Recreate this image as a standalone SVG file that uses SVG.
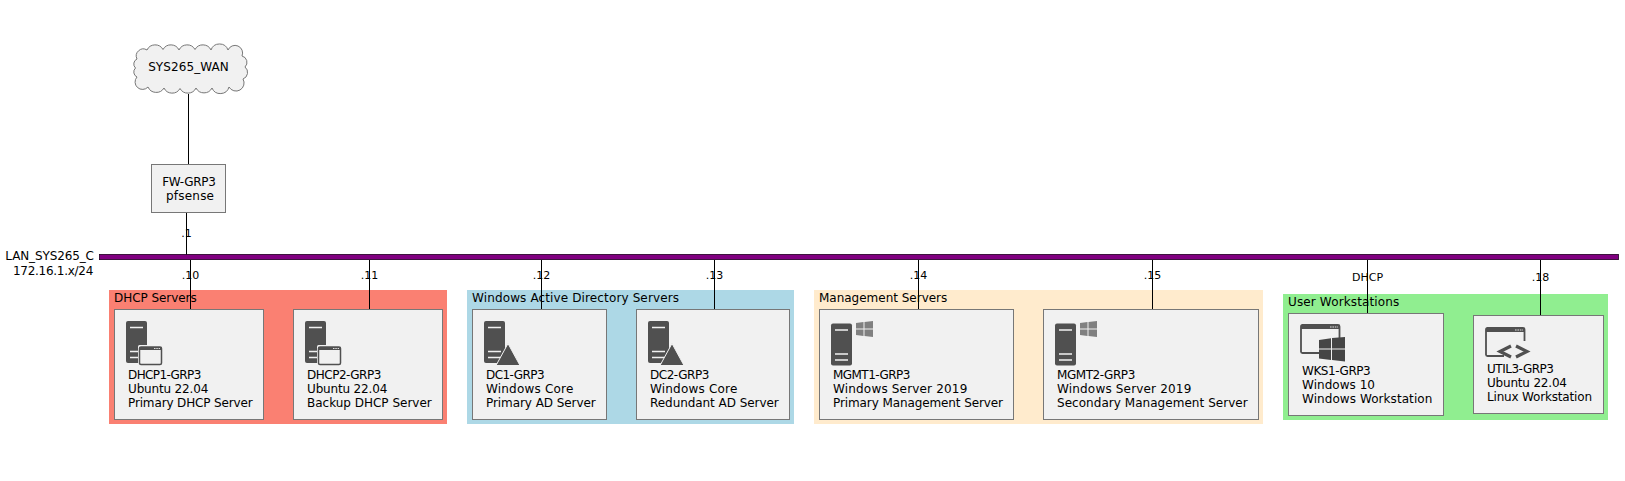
<svg xmlns="http://www.w3.org/2000/svg" width="1625" height="481" viewBox="0 0 1625 481">
<style>
text{font-family:"DejaVu Sans",sans-serif;font-size:12px;fill:#000}
.s{font-size:11px}
.m{text-anchor:middle}
.b{fill:#f1f1f1;stroke:#777;stroke-width:1}
.c line{stroke:#000;stroke-width:1}
.i{fill:#505050}
.l{fill:none;stroke:#f1f1f1;stroke-width:1.3}
</style>
<defs>
<g id="srv"><rect class="i" x="0" y="0" width="21" height="42" rx="2"/><path class="l" d="M4 6.500H17M4 30.500H17M4 36.500H17"/></g>
<g id="win"><rect x="0" y="0" width="25" height="21" rx="1.500" fill="#f1f1f1"/><rect x="1.500" y="2" width="22" height="17.500" rx="1.500" fill="none" stroke="#505050" stroke-width="1.500"/><rect class="i" x="1.500" y="2" width="22" height="3"/><path d="M16 3.500H22" stroke="#ddd" stroke-width="1" stroke-dasharray="1.500 .8"/></g>
<g id="tri"><path d="M0 22L12 0L24 22Z" class="i" stroke="#f1f1f1" stroke-width="1"/></g>
<g id="wlogo"><path d="M0 2L7.500 1V7.500H0ZM8.500 1L17 0V7.500H8.500ZM0 8.500H7.500V15L0 14ZM8.500 8.500H17V16L8.500 15Z"/></g>
<g id="bigwin"><path d="M1 28V2.500Q1 1 2.500 1H38Q39.500 1 39.500 2.500V14M1 27.500Q1 29 2.500 29H19" fill="none" stroke="#505050" stroke-width="1.800"/><rect class="i" x="1" y="1" width="38.500" height="4"/><path d="M30 3H38" stroke="#ddd" stroke-width="1.200" stroke-dasharray="1.600 .8"/></g>
<g id="logo"><path d="M0 3L12 1.200V11.500H0ZM13 1L26 0V11.500H13ZM0 12.500H12V23L0 21.500ZM13 12.500H26V24.500L13 23Z" fill="#454545"/></g>
<g id="chev"><path d="M14 1.500L3 7L14 12.500M19 1.500L30 7L19 12.500" fill="none" stroke="#505050" stroke-width="3.200"/></g>
</defs>
<rect id="g1" x="109" y="290" width="338" height="134" fill="#fa8072"/>
<rect id="g2" x="467" y="290" width="327" height="134" fill="#add8e6"/>
<rect id="g3" x="814" y="290" width="449" height="134" fill="#ffebcd"/>
<rect id="g4" x="1283" y="294" width="325" height="126" fill="#90ee90"/>
<text x="114" y="302" textLength="82.700">DHCP Servers</text>
<text x="472" y="302" textLength="207">Windows Active Directory Servers</text>
<text x="819" y="302" textLength="128.300">Management Servers</text>
<text x="1288" y="306" textLength="111.300">User Workstations</text>
<g id="connectors" class="c">
<line x1="188.500" y1="94" x2="188.500" y2="164"/>
<line x1="186.500" y1="212" x2="186.500" y2="255"/>
<line x1="190.500" y1="260" x2="190.500" y2="310"/>
<line x1="369.500" y1="260" x2="369.500" y2="310"/>
<line x1="541.500" y1="260" x2="541.500" y2="310"/>
<line x1="714.500" y1="260" x2="714.500" y2="310"/>
<line x1="918.500" y1="260" x2="918.500" y2="310"/>
<line x1="1152.500" y1="260" x2="1152.500" y2="310"/>
<line x1="1367.500" y1="260" x2="1367.500" y2="314"/>
<line x1="1540.500" y1="260" x2="1540.500" y2="316"/>
</g>
<g id="SYS265_WAN"><path class="b" d="M137 59A7 7 0 0 1 147 50A9 9 0 0 1 163 49.500A9 9 0 0 1 179 50A9 9 0 0 1 195 49.500A9 9 0 0 1 211 50A9 9 0 0 1 228 50A7 7 0 0 1 242 56A6.500 6.500 0 0 1 245 67A7 7 0 0 1 243 79A8 8 0 0 1 229 87A9 9 0 0 1 212 88A9 9 0 0 1 196 88A9 9 0 0 1 180 88.500A9 9 0 0 1 164 88A9 9 0 0 1 148 87A7 7 0 0 1 137 77A5.500 5.500 0 0 1 135.500 68A5.500 5.500 0 0 1 137 59Z"/><text class="m" x="188.500" y="71" textLength="80.700">SYS265_WAN</text></g>
<g id="FW-GRP3"><rect class="b" x="151.500" y="164.500" width="74" height="48"/><text class="m" x="189" y="186" textLength="53.700">FW-GRP3</text><text class="m" x="190" y="200" textLength="48">pfsense</text></g>
<g id="LAN_SYS265_C"><rect x="99.500" y="254.400" width="1519" height="5.200" fill="#800080" stroke="#200020" stroke-width=".8"/><text x="5.300" y="260" textLength="88.700">LAN_SYS265_C</text><text x="13" y="275" textLength="80.300">172.16.1.x/24</text></g>
<g id="labels">
<text class="s m" x="186.500" y="237">.1</text>
<text class="s m" x="190.500" y="279">.10</text>
<text class="s m" x="369.500" y="279">.11</text>
<text class="s m" x="541.500" y="279">.12</text>
<text class="s m" x="714.500" y="279">.13</text>
<text class="s m" x="918.500" y="279">.14</text>
<text class="s m" x="1152.500" y="279">.15</text>
<text class="s m" x="1367.500" y="281">DHCP</text>
<text class="s m" x="1540.500" y="281">.18</text>
</g>
<g id="DHCP1-GRP3"><rect class="b" x="114.500" y="309.500" width="149" height="110"/><use href="#srv" x="126" y="321"/><use href="#win" x="138" y="345"/><text x="128" y="379" textLength="73.300">DHCP1-GRP3</text><text x="128" y="393" textLength="80.300">Ubuntu 22.04</text><text x="128" y="407" textLength="124.700">Primary DHCP Server</text></g>
<g id="DHCP2-GRP3"><rect class="b" x="293.500" y="309.500" width="149" height="110"/><use href="#srv" x="305" y="321"/><use href="#win" x="317" y="345"/><text x="307" y="379" textLength="74.300">DHCP2-GRP3</text><text x="307" y="393" textLength="80.300">Ubuntu 22.04</text><text x="307" y="407" textLength="124.700">Backup DHCP Server</text></g>
<g id="DC1-GRP3"><rect class="b" x="472.500" y="309.500" width="134" height="110"/><use href="#srv" x="484" y="321"/><use href="#tri" x="496" y="343.500"/><text x="486" y="379" textLength="58.700">DC1-GRP3</text><text x="486" y="393" textLength="87.300">Windows Core</text><text x="486" y="407" textLength="109.700">Primary AD Server</text></g>
<g id="DC2-GRP3"><rect class="b" x="636.500" y="309.500" width="153" height="110"/><use href="#srv" x="648" y="321"/><use href="#tri" x="660" y="343.500"/><text x="650" y="379" textLength="59.300">DC2-GRP3</text><text x="650" y="393" textLength="87.300">Windows Core</text><text x="650" y="407" textLength="128.700">Redundant AD Server</text></g>
<g id="MGMT1-GRP3"><rect class="b" x="819.500" y="309.500" width="194" height="110"/><use href="#srv" x="831" y="323.500"/><use href="#wlogo" x="856" y="321" fill="#808080"/><text x="833" y="379" textLength="77.300">MGMT1-GRP3</text><text x="833" y="393" textLength="134.300">Windows Server 2019</text><text x="833" y="407" textLength="170">Primary Management Server</text></g>
<g id="MGMT2-GRP3"><rect class="b" x="1043.500" y="309.500" width="215" height="110"/><use href="#srv" x="1055" y="323.500"/><use href="#wlogo" x="1080" y="321" fill="#808080"/><text x="1057" y="379" textLength="78.300">MGMT2-GRP3</text><text x="1057" y="393" textLength="134.300">Windows Server 2019</text><text x="1057" y="407" textLength="190.700">Secondary Management Server</text></g>
<g id="WKS1-GRP3"><rect class="b" x="1288.500" y="313.500" width="155" height="102"/><use href="#bigwin" x="1300" y="324"/><use href="#logo" x="1319" y="337"/><text x="1302" y="375" textLength="68.700">WKS1-GRP3</text><text x="1302" y="389" textLength="73">Windows 10</text><text x="1302" y="403" textLength="130.300">Windows Workstation</text></g>
<g id="UTIL3-GRP3"><rect class="b" x="1473.500" y="315.500" width="130" height="98"/><use href="#bigwin" x="1485" y="327"/><use href="#chev" x="1497" y="344.500"/><text x="1487" y="373" textLength="67">UTIL3-GRP3</text><text x="1487" y="387" textLength="80">Ubuntu 22.04</text><text x="1487" y="401" textLength="105">Linux Workstation</text></g>
</svg>
